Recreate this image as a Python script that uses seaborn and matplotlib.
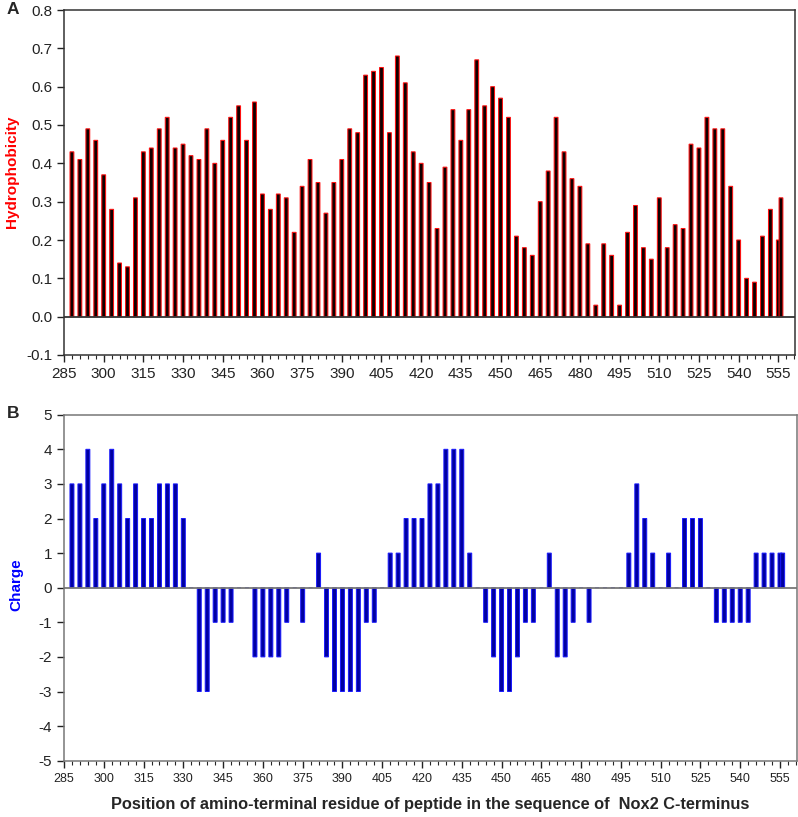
import numpy as np
import pandas as pd
import seaborn as sns
import matplotlib.pyplot as plt
from matplotlib.ticker import MultipleLocator, FormatStrFormatter

# peptide start positions (every 3 residues, plus the last two)
positions = list(range(288, 553, 3)) + [555, 556]

hydrophobicity = [
    0.43, 0.41, 0.49, 0.46, 0.37, 0.28, 0.14, 0.13, 0.31, 0.43, 0.44, 0.49,
    0.52, 0.44, 0.45, 0.42, 0.41, 0.49, 0.40, 0.46, 0.52, 0.55, 0.46, 0.56,
    0.32, 0.28, 0.32, 0.31, 0.22, 0.34, 0.41, 0.35, 0.27, 0.35, 0.41, 0.49,
    0.48, 0.63, 0.64, 0.65, 0.48, 0.68, 0.61, 0.43, 0.40, 0.35, 0.23, 0.39,
    0.54, 0.46, 0.54, 0.67, 0.55, 0.60, 0.57, 0.52, 0.21, 0.18,
    0.16, 0.30, 0.38, 0.52, 0.43, 0.36, 0.34, 0.19, 0.03, 0.19, 0.16, 0.03,
    0.22, 0.29, 0.18, 0.15, 0.31, 0.18, 0.24, 0.23, 0.45, 0.44, 0.52, 0.49,
    0.49, 0.34, 0.20, 0.10, 0.09, 0.21, 0.28,
    0.20, 0.31,
]

charge = [
    3, 3, 4, 2, 3, 4, 3, 2, 3, 2, 2, 3, 3, 3, 2,
    0, -3, -3, -1, -1, -1, 0, 0, -2, -2, -2, -2, -1, 0, -1, 0,
    1, -2, -3, -3, -3, -3, -1, -1, 0,
    1, 1, 2, 2, 2, 3, 3, 4, 4, 4, 1, 0,
    -1, -2, -3, -3, -2, -1, -1, 0, 1, -2, -2, -1, 0, -1,
    0, 0, 0, 0, 1, 3, 2, 1, 0, 1, 0, 2, 2, 2, 0,
    -1, -1, -1, -1, -1, 1, 1, 1,
    1, 1,
]

df = pd.DataFrame({"pos": positions, "hyd": hydrophobicity, "charge": charge})

sns.set_style("ticks")
plt.rcParams["font.family"] = ["Liberation Sans", "DejaVu Sans"]
plt.rcParams["axes.unicode_minus"] = False

fig = plt.figure(figsize=(7.98, 8.17), dpi=100)
ax1 = fig.add_axes([64 / 798, 1 - 355 / 817, 731 / 798, 345 / 817])
ax2 = fig.add_axes([64 / 798, 1 - 760.7 / 817, 732.7 / 798, 346 / 817])

sns.barplot(data=df, x="pos", y="hyd", native_scale=True, ax=ax1,
            color="#100000", edgecolor="#ff1010", linewidth=0.75,
            width=1.45, saturation=1, errorbar=None)
sns.barplot(data=df, x="pos", y="charge", native_scale=True, ax=ax2,
            color="#0000a0", edgecolor="#1818ff", linewidth=0.7,
            width=1.5, saturation=1, errorbar=None)

# no pixel snapping so every bar looks alike
for ax in (ax1, ax2):
    for p in ax.patches:
        p.set_snap(False)

ax1.axhline(0, color="#333333", lw=1.3, zorder=3)
ax2.axhline(0, color="#777777", lw=1.3, zorder=3)

for ax in (ax1, ax2):
    ax.set_xlim(285, 561.3)
    ax.xaxis.set_major_locator(MultipleLocator(15))
    ax.xaxis.set_minor_locator(MultipleLocator(3))
    ax.tick_params(axis="x", which="major", length=5, width=1, direction="out")
    ax.tick_params(axis="x", which="minor", length=3, width=0.8, direction="out")
    ax.tick_params(axis="y", length=5, width=1, direction="out")
    ax.set_xlabel("")

ax1.set_ylim(-0.1, 0.8)
ax1.yaxis.set_major_locator(MultipleLocator(0.1))
ax1.yaxis.set_major_formatter(FormatStrFormatter("%.1f"))
ax1.tick_params(labelsize=11, colors="#222222")
for sp in ax1.spines.values():
    sp.set_visible(True)
    sp.set_color("#333333")
    sp.set_linewidth(1.1)
ax1.set_ylabel("Hydrophobicity", color="#ff0000", fontweight="bold", fontsize=11)
ax1.yaxis.set_label_coords(-0.062, 0.53)

ax2.set_ylim(-5, 5)
ax2.yaxis.set_major_locator(MultipleLocator(1))
ax2.tick_params(axis="y", labelsize=11, colors="#222222")
ax2.tick_params(axis="x", labelsize=9, colors="#222222")
for sp in ax2.spines.values():
    sp.set_visible(True)
    sp.set_color("#777777")
    sp.set_linewidth(1.1)
ax2.set_ylabel("Charge", color="#0000ff", fontweight="bold", fontsize=11)
ax2.yaxis.set_label_coords(-0.055, 0.51)
ax2.set_xlabel("Position of amino-terminal residue of peptide in the sequence of  Nox2 C-terminus",
               fontweight="bold", fontsize=11.8, labelpad=9)

fig.text(7 / 798, 1 - 10 / 817, "A", fontweight="bold", fontsize=12.5, va="center")
fig.text(7 / 798, 1 - 413 / 817, "B", fontweight="bold", fontsize=12.5, va="center")

plt.savefig("out.png", dpi=100)
